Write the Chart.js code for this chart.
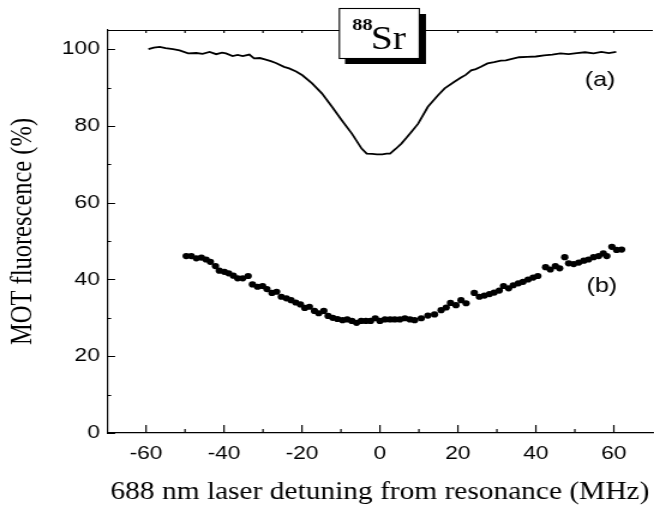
<!DOCTYPE html>
<html>
<head>
<meta charset="utf-8">
<script src="https://cdn.jsdelivr.net/npm/chart.js@4.4.1/dist/chart.umd.min.js"></script>
<style>
  html, body { margin: 0; padding: 0; background: #fff; overflow: hidden; }
  /* the reference figure is stretched ~1.2x horizontally, so the canvas is too */
  #plot { display: block; transform: scaleX(1.2); transform-origin: 0 0; }
</style>
</head>
<body>
<canvas id="plot" width="548" height="508"></canvas>
<script>
// curve (a): MOT fluorescence, continuous trace
var aX = [-59.4,-58,-56.5,-55,-53.1,-51.4,-49.2,-47.1,-45.5,-43.7,-42,-40.5,-39.5,-37.8,-36.5,-35.2,-33.5,-32.3,-30.8,-29.3,-28,-26.7,-24.6,-23.3,-21.5,-19.9,-17.4,-14.9,-12.3,-9.8,-7.2,-4.7,-3.4,-2,-0.8,0.6,1.7,2.6,4,5.5,6.8,8.1,9.8,12.3,14.9,16.6,19.1,20.8,22,23.4,24.6,25.9,27.6,29.3,31,32.3,33.6,35.7,37.8,40,42.1,44.2,46.3,48.4,50.5,52.6,54.8,56.8,58.7,60.6];
var aY = [100.0,100.4,100.6,100.3,100.0,99.7,98.9,99.0,98.8,99.3,98.7,99.1,98.9,98.2,98.5,98.2,98.6,97.6,97.7,97.3,96.9,96.4,95.4,95.0,94.2,93.2,91.1,88.5,85.0,81.5,78.0,74.1,72.8,72.7,72.6,72.6,72.8,72.8,74.0,75.4,76.9,78.5,80.6,85.0,88.0,89.8,91.5,92.6,93.3,94.5,94.8,95.4,96.3,96.6,97.0,97.1,97.4,97.9,98.0,98.1,98.4,98.6,98.9,98.7,99.0,99.2,98.9,99.3,99.0,99.3];

// curve (b): dots
var bX = [-49.7,-48.4,-47.1,-45.8,-44.6,-43.5,-42.2,-41.2,-39.9,-38.8,-37.6,-36.5,-35.2,-33.8,-32.7,-31.4,-30.1,-29.0,-27.7,-26.5,-25.3,-24.0,-22.8,-21.6,-20.4,-19.3,-18.1,-16.8,-15.7,-14.4,-13.3,-12.1,-10.9,-9.6,-8.4,-7.2,-6.0,-4.8,-3.6,-2.4,-1.2,0.0,1.3,2.6,3.8,5.1,6.4,7.7,8.9,10.6,12.3,14.0,15.7,17.0,18.1,19.5,20.8,22.1,24.2,25.5,26.8,28.1,29.3,30.6,31.7,33.0,34.2,35.5,36.7,38.0,39.3,40.5,42.5,43.7,45.0,46.1,47.4,48.4,49.7,51.0,52.3,53.5,54.8,56.1,57.3,58.2,59.5,60.7,62.0];
var bY = [46.1,46.1,45.5,45.7,45.2,44.6,43.5,42.3,42.0,41.6,41.0,40.3,40.3,40.9,38.7,38.1,38.3,37.5,36.5,36.8,35.5,35.1,34.6,34.0,33.5,32.6,32.9,31.8,31.2,31.8,30.5,30.0,29.7,29.4,29.6,29.2,28.7,29.2,29.2,29.2,29.9,29.2,29.6,29.6,29.6,29.6,29.9,29.6,29.4,29.9,30.6,30.9,32.0,32.7,33.9,33.3,34.6,33.8,36.5,35.5,35.8,36.2,36.6,37.1,38.3,37.7,38.5,39.0,39.4,40.0,40.5,40.9,43.2,42.6,43.5,42.9,45.8,44.2,44.0,44.4,44.9,45.2,45.8,46.1,46.8,46.1,48.5,47.7,47.8];

var xTicks = [-60, -40, -20, 0, 20, 40, 60];
var yTicks = [0, 20, 40, 60, 80, 100];
var xMinor = [-50, -30, -10, 10, 30, 50];
var yMinor = [10, 30, 50, 70, 90];

function pts(xs, ys) {
  return xs.map(function (v, i) { return { x: v, y: ys[i] }; });
}

// inward tick marks, top frame line, curve labels and the isotope box
var decor = {
  id: 'decor',
  afterDraw: function (chart) {
    var ctx = chart.ctx, a = chart.chartArea;
    var x = chart.scales.x, y = chart.scales.y;
    ctx.save();
    ctx.strokeStyle = '#000';
    ctx.lineWidth = 1.2;
    ctx.beginPath();
    ctx.moveTo(a.left, a.top + 0.5);
    ctx.lineTo(a.right, a.top + 0.5);
    xTicks.forEach(function (v) {
      var px = x.getPixelForValue(v);
      ctx.moveTo(px, a.bottom); ctx.lineTo(px, a.bottom - 8);
      ctx.moveTo(px, a.top); ctx.lineTo(px, a.top + 3);
    });
    xMinor.forEach(function (v) {
      var px = x.getPixelForValue(v);
      ctx.moveTo(px, a.bottom); ctx.lineTo(px, a.bottom - 4);
      ctx.moveTo(px, a.top); ctx.lineTo(px, a.top + 3);
    });
    yTicks.forEach(function (v) {
      var py = Math.round(y.getPixelForValue(v)) + 0.5;
      ctx.moveTo(a.left, py); ctx.lineTo(a.left + 6.7, py);
    });
    yMinor.forEach(function (v) {
      var py = Math.round(y.getPixelForValue(v)) + 0.5;
      ctx.moveTo(a.left, py); ctx.lineTo(a.left + 3.4, py);
    });
    ctx.stroke();

    ctx.fillStyle = '#000';
    ctx.font = '21px "Liberation Sans", Arial, sans-serif';
    ctx.textAlign = 'center';
    ctx.textBaseline = 'middle';
    ctx.fillText('(a)', 500, 80);
    ctx.fillText('(b)', 501.5, 286);

    // 88Sr box with drop shadow
    ctx.fillRect(287.5, 14, 67.5, 50);
    ctx.fillStyle = '#fff';
    ctx.fillRect(282.8, 8.5, 66.6, 50);
    ctx.lineWidth = 1.1;
    ctx.strokeRect(282.8, 8.5, 66.6, 50);
    ctx.fillStyle = '#000';
    ctx.textAlign = 'left';
    ctx.textBaseline = 'alphabetic';
    ctx.font = 'bold 17px "Liberation Serif", "Times New Roman", serif';
    ctx.fillText('88', 293.5, 30);
    ctx.font = '33px "Liberation Serif", "Times New Roman", serif';
    ctx.fillText('Sr', 309, 48.5);
    ctx.restore();
  }
};

var tickFont = { family: '"Liberation Sans", Arial, sans-serif', size: 19 };
var titleFont = { family: '"Liberation Serif", "Times New Roman", serif', size: 24.5 };

new Chart(document.getElementById('plot'), {
  type: 'scatter',
  plugins: [decor],
  data: {
    datasets: [{
      label: '(a)',
      data: pts(aX, aY),
      showLine: true,
      borderColor: '#000',
      borderWidth: 1.8,
      pointRadius: 0,
      tension: 0
    }, {
      label: '(b)',
      data: pts(bX, bY),
      showLine: false,
      pointRadius: 3.1,
      pointBackgroundColor: '#000',
      pointBorderColor: '#000',
      pointBorderWidth: 0
    }]
  },
  options: {
    responsive: false,
    animation: false,
    layout: { padding: { top: 30, right: 1, left: 0, bottom: 0 } },
    plugins: {
      legend: { display: false },
      tooltip: { enabled: false }
    },
    scales: {
      x: {
        type: 'linear',
        min: -70,
        max: 70,
        afterBuildTicks: function (s) { s.ticks = xTicks.map(function (v) { return { value: v }; }); },
        afterFit: function (s) { s.height = 75; },
        grid: { display: false, drawTicks: false },
        border: { display: true, color: '#000', width: 1.3 },
        ticks: { color: '#000', font: tickFont, padding: 9, maxRotation: 0 },
        title: {
          display: true,
          text: '688 nm laser detuning from resonance (MHz)',
          color: '#000',
          font: titleFont,
          padding: { top: 0, bottom: 1 }
        }
      },
      y: {
        type: 'linear',
        min: 0,
        max: 105,
        afterBuildTicks: function (s) { s.ticks = yTicks.map(function (v) { return { value: v }; }); },
        afterFit: function (s) { s.width = 89.2; },
        grid: { display: false, drawTicks: false },
        border: { display: true, color: '#000', width: 1.2 },
        ticks: { color: '#000', font: tickFont, padding: 6 },
        title: {
          display: true,
          text: 'MOT fluorescence (%)',
          color: '#000',
          font: titleFont,
          padding: { top: 5, bottom: 0 }
        }
      }
    }
  }
});
</script>
</body>
</html>
